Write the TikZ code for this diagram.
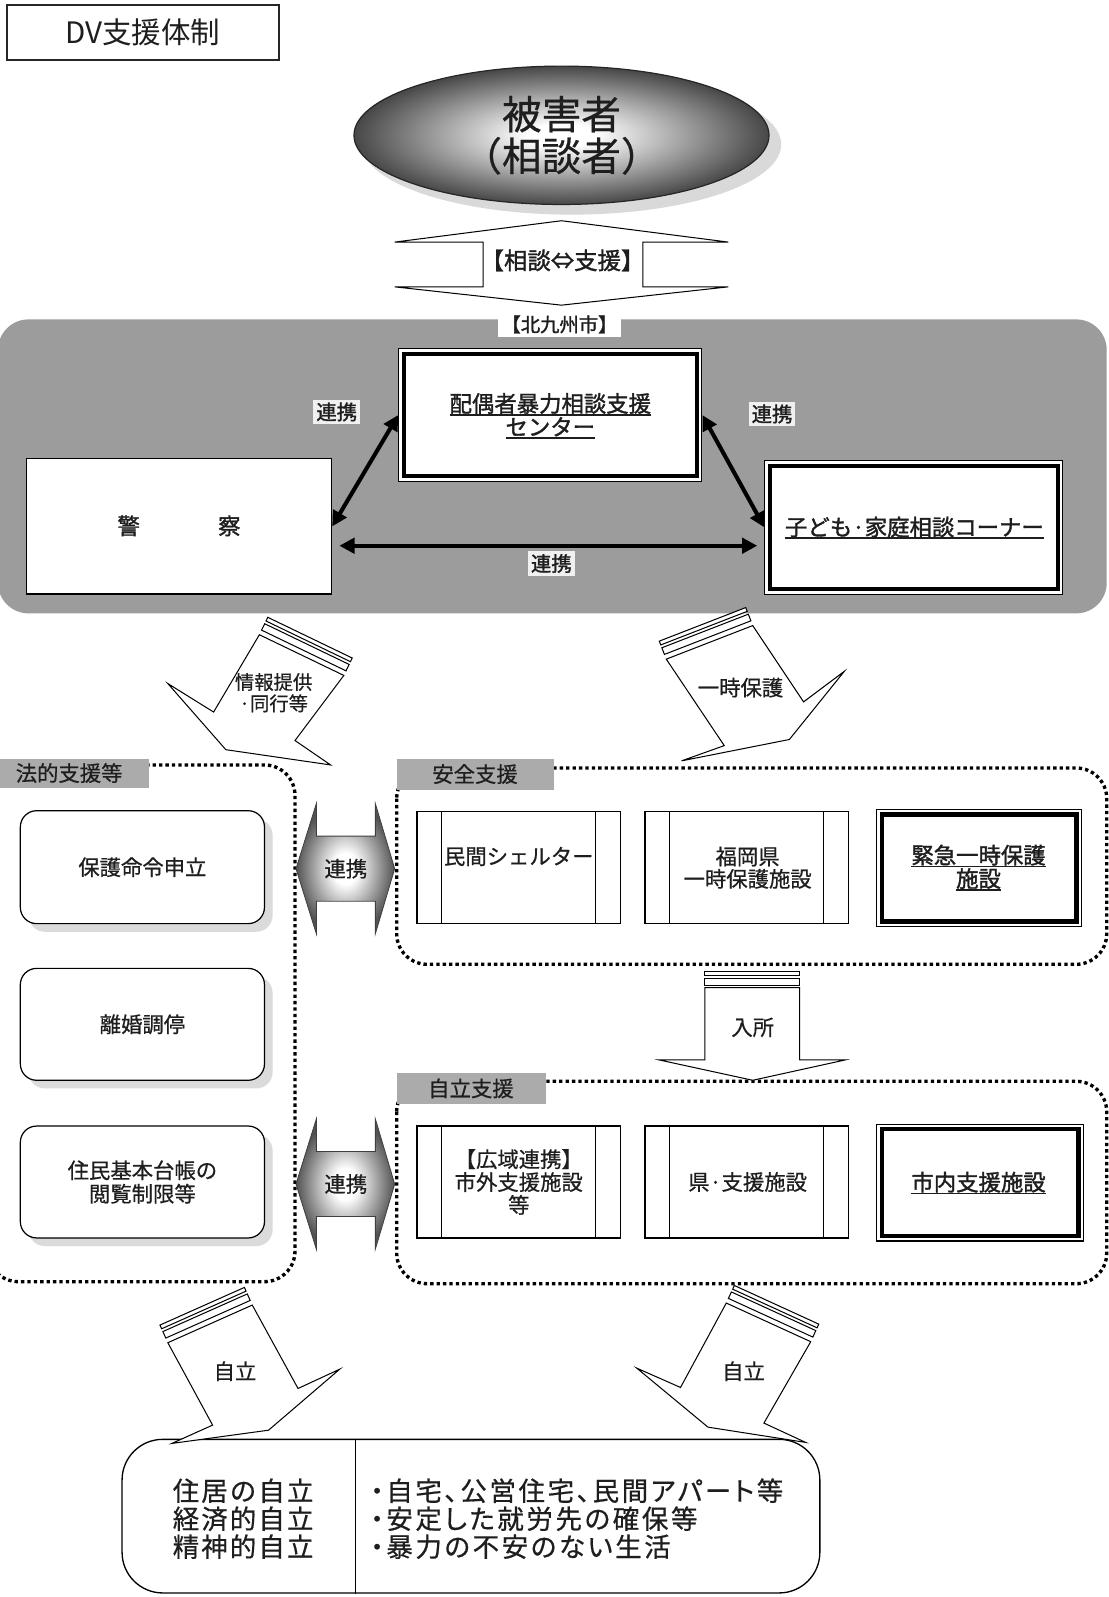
\documentclass[tikz,border=0pt]{standalone}
\usepackage{fontspec}
\setmainfont{Noto Sans CJK JP}[AutoFakeBold=1.5]
\newfontfamily\medfont{Noto Sans CJK JP}[FakeBold=0.6]
\usetikzlibrary{shapes.geometric,arrows.meta,calc,fit}
\definecolor{ink}{HTML}{1E1E1E}
\definecolor{cityfill}{HTML}{9C9C9C}
\definecolor{tagfill}{HTML}{ABABAB}
\newcommand\ulx[1]{\setbox0\hbox{#1}\rlap{\rule[-3.5pt]{\wd0}{1.6pt}}\box0}
\pgfdeclareradialshading{victimshade}{\pgfpoint{0bp}{0bp}}{color(0bp)=(white); color(4bp)=(white); color(25bp)=(black!72); color(50bp)=(black!72)}
\pgfdeclareradialshading{linkshade}{\pgfpoint{0bp}{0bp}}{color(0bp)=(white); color(6bp)=(white); color(25bp)=(black!68); color(50bp)=(black!68)}
\newcommand\arrowbands[2]{%
  \draw[blk] ($(#1)!5pt!90:(#2)$) -- ($(#2)!5pt!-90:(#1)$) -- ($(#2)!12pt!-90:(#1)$) -- ($(#1)!12pt!90:(#2)$) -- cycle;
  \draw[blk] ($(#1)!15pt!90:(#2)$) -- ($(#2)!15pt!-90:(#1)$) -- ($(#2)!19pt!-90:(#1)$) -- ($(#1)!19pt!90:(#2)$) -- cycle;}
\newcommand\thickframe[1]{%
  \draw[line width=4.5pt] ([shift={(5.5,5.5)}]#1.north west) rectangle ([shift={(-5.5,-5.5)}]#1.south east);}
\newcommand\sidebars[1]{%
  \draw[line width=1.2pt] ([xshift=25pt]#1.north west) -- ([xshift=25pt]#1.south west);
  \draw[line width=1.2pt] ([xshift=-25pt]#1.north east) -- ([xshift=-25pt]#1.south east);}
\begin{document}
\begin{tikzpicture}[x=1pt,y=-1pt,
  every node/.style={text=ink, inner sep=0pt, align=center, font=\medfont\fontsize{21}{23}\selectfont},
  btxt/.style={font=\fontsize{22}{23}\selectfont\bfseries},
  pbox/.style={draw=black, line width=1.2pt, fill=white, inner sep=0pt},
  rbox/.style={draw=black, line width=1.2pt, fill=white, rounded corners=16pt, inner sep=0pt},
  shadowbox/.style={fill=gray!28, rounded corners=16pt},
  blk/.style={draw=black, line width=1pt, fill=white, line join=miter},
  dotreg/.style={draw=black, line width=3.3pt, dash pattern=on 3.3pt off 3pt, rounded corners=30pt},
  grouptag/.style={fill=tagfill, inner sep=0pt},
  conn/.style={line width=4pt, {Triangle[length=15pt,width=15pt]}-{Triangle[length=15pt,width=15pt]}},
  linklbl/.style={fill=gray!12, inner xsep=3pt, inner ysep=3pt, font=\fontsize{20}{22}\selectfont\bfseries},
]
\useasboundingbox (0,0) rectangle (1090,1570);
\fill[white] (0,0) rectangle (1090,1570);

% title
\node[draw=black!85, line width=2pt, fit={(7,5) (274,59)}] (title) {};
\node[font=\fontsize{29}{31}\selectfont] (titletxt) at (title.center) {DV支援体制};

% victim ellipse
\fill[gray!30] (562,142) ellipse [x radius=206, y radius=69];
\node[ellipse, draw=black!85, line width=1.2pt, minimum width=408pt, minimum height=136pt, shading=victimshade, font=\medfont\fontsize{39}{41}\selectfont] (victim) at (552,133) {被害者\\（相談者）};

% up/down arrow
\draw[blk] (552,217) -- (716,238) -- (632,238) -- (632,282) -- (716,282) -- (552,300) -- (388,282) -- (475,282) -- (475,238) -- (388,238) -- cycle;
\node[font=\fontsize{23}{24}\selectfont\bfseries] (soudan) at (553,256) {【相談⇔支援】};

% city region
\node[fit={(-2,314) (1088,603)}, fill=cityfill, rounded corners=30pt, inner sep=0pt] (city) {};
\node[fill=white, inner xsep=3pt, inner ysep=3pt, font=\fontsize{19}{21}\selectfont\bfseries] (cityname) at (550,319) {【北九州市】};

\node[pbox, line width=1pt, fit={(392,343) (690,473)}] (dvc) {};
\thickframe{dvc}
\node[btxt] (dvctxt) at (541,409) {\ulx{配偶者暴力相談支援}\\\ulx{センター}};

\node[pbox, fit={(26,451) (326,584)}] (police) {};
\node[btxt] (policetxt) at (176,517) {警\hspace{77pt}察};

\node[pbox, line width=1pt, fit={(752,453) (1045,584)}] (kodomo) {};
\thickframe{kodomo}
\node[btxt] (kodomotxt) at (899,519) {\ulx{子ども·家庭相談コーナー}};

\draw[conn] (police.east) -- (dvc.west);
\draw[conn] (dvc.east) -- (kodomo.west);
\draw[conn, shorten <=7pt, shorten >=7pt] ([yshift=-19pt]police.east) -- ([yshift=-19pt]police.east -| kodomo.west);
\node[linklbl] (lk1) at (331,405) {連携};
\node[linklbl] (lk2) at (759,407) {連携};
\node[linklbl] (lk3) at (542,554) {連携};

% upper slanted arrows
\coordinate (ua1) at (255,624); \coordinate (ub1) at (338,664);
\draw[blk] (ua1) -- (210,700) -- (165,672) -- (222,737) -- (325,752) -- (290,728) -- (ub1) -- cycle;
\arrowbands{ua1}{ub1}
\node[font=\medfont\fontsize{19}{21}\selectfont] (info) at (269,681) {情報提供\\·同行等};

\coordinate (ua2) at (655,648); \coordinate (ub2) at (740,615);
\draw[blk] (ua2) -- (712,733) -- (670,748) -- (776,727) -- (830,660) -- (790,690) -- (ub2) -- cycle;
\arrowbands{ua2}{ub2}
\node (ichiji) at (728,676) {一時保護};

% dotted regions
\draw[dotreg] (-12,752) rectangle (290,1260);
\draw[dotreg] (390,755) rectangle (1088,948);
\draw[dotreg] (390,1063) rectangle (1088,1262);

\node[grouptag, fit={(0,746) (146,775)}] (hotekitag) {};
\node (hotekitxt) at (68,760) {法的支援等};
\node[grouptag, fit={(390,746) (545,777)}] (anzentag) {};
\node (anzentxt) at (467,761) {安全支援};
\node[grouptag, fit={(390,1055) (537,1085)}] (jiritsutag) {};
\node (jiritsutxt) at (463,1070) {自立支援};

% left column
\fill[shadowbox] (28,805) rectangle (268,916);
\node[rbox, fit={(20,797) (260,908)}] (hogo) {};
\node (hogotxt) at (hogo.center) {保護命令申立};
\fill[shadowbox] (28,960) rectangle (268,1070);
\node[rbox, fit={(20,952) (260,1062)}] (rikon) {};
\node (rikontxt) at (rikon.center) {離婚調停};
\fill[shadowbox] (28,1115) rectangle (268,1225);
\node[rbox, fit={(20,1107) (260,1217)}] (jumin) {};
\node (jumintxt) at (jumin.center) {住民基本台帳の\\閲覧制限等};

% link block arrows
\shadedraw[shading=linkshade, draw=black!75, line width=0.8pt] (291,854) -- (311,790) -- (311,822) -- (369,822) -- (369,790) -- (388,854) -- (369,918) -- (369,886) -- (311,886) -- (311,918) -- cycle;
\node (lk4) at (340,854) {連携};
\shadedraw[shading=linkshade, draw=black!75, line width=0.8pt] (291,1164) -- (311,1100) -- (311,1132) -- (369,1132) -- (369,1100) -- (388,1164) -- (369,1228) -- (369,1196) -- (311,1196) -- (311,1228) -- cycle;
\node (lk5) at (340,1164) {連携};

% safety support boxes
\node[pbox, fit={(410,798) (610,908)}] (shelter) {};
\sidebars{shelter}
\node (sheltertxt) at (510,842) {民間シェルター};
\node[pbox, fit={(634,798) (834,908)}] (fukuoka) {};
\sidebars{fukuoka}
\node[font=\medfont\fontsize{21}{22}\selectfont] (fukuokatxt) at (735,853) {福岡県\\一時保護施設};
\node[pbox, line width=1pt, fit={(862,796) (1063,911)}] (kinkyu) {};
\thickframe{kinkyu}
\node[btxt] (kinkyutxt) at (962,853) {\ulx{緊急一時保護}\\\ulx{施設}};

% entry arrow
\draw[blk] (693,955) rectangle (786,959);
\draw[blk] (693,962) rectangle (786,969);
\draw[blk] (693,971) -- (786,971) -- (786,1042) -- (831,1042) -- (740,1062) -- (648,1042) -- (693,1042) -- cycle;
\node (nyusho) at (740,1010) {入所};

% independence support boxes
\node[pbox, fit={(410,1107) (610,1217)}] (kouiki) {};
\sidebars{kouiki}
\node[font=\medfont\fontsize{21}{22.5}\selectfont] (kouikitxt) at (510,1162) {【広域連携】\\市外支援施設\\等};
\node[pbox, fit={(634,1107) (834,1217)}] (ken) {};
\sidebars{ken}
\node (kentxt) at (735,1162) {県·支援施設};
\node[pbox, line width=1pt, fit={(862,1105) (1065,1220)}] (shinai) {};
\thickframe{shinai}
\node[btxt] (shinaitxt) at (962,1163) {\ulx{市内支援施設}};

% bottom box
\node[draw=black, line width=1.3pt, fill=white, rounded corners=40pt, fit={(120,1415) (806,1566)}] (goal) {};
\draw[line width=1.2pt] ($(goal.north west)!0.335!(goal.north east)$) -- ($(goal.south west)!0.335!(goal.south east)$);
\node[font=\medfont\fontsize{26}{27.5}\selectfont\addfontfeatures{LetterSpace=8}] (goalleft) at (239,1493) {住居の自立\\経済的自立\\精神的自立};
\node[anchor=west, align=left, font=\medfont\fontsize{26}{27.5}\selectfont\addfontfeatures{RawFeature=+palt,LetterSpace=10}] (goalright) at (364,1493) {・自宅、公営住宅、民間アパート等\\・安定した就労先の確保等\\・暴力の不安のない生活};

% bottom arrows
\coordinate (ua3) at (165,1320); \coordinate (ub3) at (248,1283);
\draw[blk] (ua3) -- (209,1401) -- (169,1419) -- (264,1406) -- (334,1346) -- (293,1365) -- (ub3) -- cycle;
\arrowbands{ua3}{ub3}
\node (jir1) at (231,1348) {自立};
\coordinate (ua4) at (714,1281); \coordinate (ub4) at (797,1319);
\draw[blk] (ua4) -- (669,1364) -- (626,1345) -- (696,1403) -- (792,1418) -- (751,1399) -- (ub4) -- cycle;
\arrowbands{ua4}{ub4}
\node (jir2) at (731,1348) {自立};
\end{tikzpicture}
\end{document}
